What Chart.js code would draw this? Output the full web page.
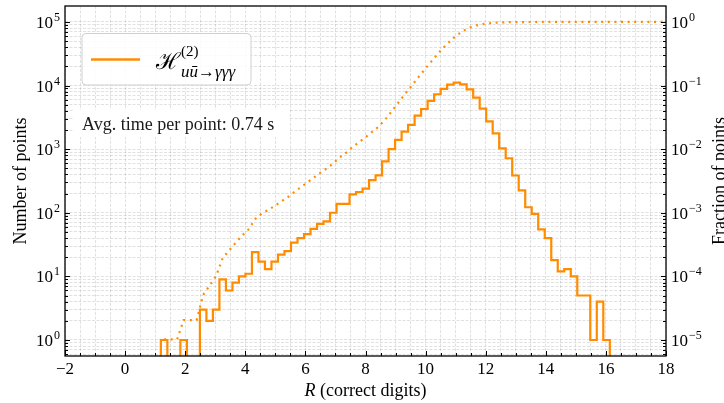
<!DOCTYPE html>
<html><head><meta charset="utf-8">
<script src="https://cdn.jsdelivr.net/npm/chart.js@4/dist/chart.umd.min.js"></script>
<style>html,body{margin:0;padding:0;background:#fff}#wrap{width:724px;height:403px;position:relative}</style>
</head><body><div id="wrap"><canvas id="c" width="724" height="403"></canvas></div>
<script>
// ---- data ----
const binLow = 1.19;          // left edge of first histogram bin (R)
const binHigh = 16.13;        // right edge of last histogram bin (R)
const counts = [1,0,0,1,0,0,3,2,3,9,6,8,10,11,24,17,13,17,22,25,34,40,46,56,67,73,100,138,138,195,212,240,325,388,643,1000,1395,1885,2400,3370,4280,5740,7300,8850,10350,11100,10460,8720,6440,4330,2740,1770,1030,720,385,225,122,96,55,40,18,12,13,10,5,5,1,4,1];
const cumFraction = [1.02e-5,1.02e-5,1.02e-5,2.05e-5,2.05e-5,2.05e-5,5.12e-5,7.16e-5,1.02e-4,1.94e-4,2.56e-4,3.38e-4,4.40e-4,5.52e-4,7.98e-4,9.72e-4,1.105e-3,1.279e-3,1.504e-3,1.760e-3,2.108e-3,2.517e-3,2.988e-3,3.561e-3,4.246e-3,4.993e-3,6.016e-3,7.428e-3,8.840e-3,1.0835e-2,1.3004e-2,1.5459e-2,1.8785e-2,2.2754e-2,2.9333e-2,3.9564e-2,5.3837e-2,7.3124e-2,9.768e-2,0.13216,0.17595,0.23467,0.30936,0.39991,0.50581,0.61937,0.72640,0.81561,0.88150,0.92581,0.95384,0.97195,0.98249,0.98985,0.99379,0.99609,0.99734,0.99832,0.99888,0.99929,0.99947,0.99960,0.99973,0.99983,0.99988,0.99993,0.99994,0.99998,1.0];
const cumTailX = 18;          // dotted curve continues flat to the right edge
const xTickValues = [-2,0,2,4,6,8,10,12,14,16,18];
const xTickLabels = ['\u22122','0','2','4','6','8','10','12','14','16','18'];
const yLeftExponents = ['0','1','2','3','4','5'];
const yRightExponents = ['\u22125','\u22124','\u22123','\u22122','\u22121','0'];
const seriesLabel = {main:'\u210B', sup:'(2)', sub:'u\u016B\u2192\u03B3\u03B3\u03B3'};
const noteText = 'Avg. time per point: 0.74 s';
const xTitle = {italic:'R', rest:' (correct digits)'};
const yLeftTitle = 'Number of points';
const yRightTitle = 'Fraction of points';
const totalScale = 1e5; // fraction axis = counts / 1e5

// ---- build line data ----
const nb = counts.length;
const bw = (binHigh - binLow) / nb;
const edges = counts.map((_, i) => binLow + i * bw).concat([binHigh]);
const FLOOR = 1e-3; // zero bins drawn below the visible log range
const stepPts = [{x: edges[0], y: FLOOR}];
counts.forEach((c, i) => {
  const v = c > 0 ? c : FLOOR;
  stepPts.push({x: edges[i], y: v}, {x: edges[i + 1], y: v});
});
stepPts.push({x: edges[nb], y: FLOOR});
const cumPts = cumFraction.map((f, i) => ({x: edges[i] + bw / 2, y: f}));
cumPts.push({x: cumTailX, y: cumFraction[cumFraction.length - 1]});

const ORANGE = '#ff8c00';
const SERIF = "'Liberation Serif','DejaVu Serif',serif";
const yMin = 0.56, yMax = 1.78e5;
const gridColor = 'rgba(0,0,0,0.15)';

function logTicks(min, max) {
  const t = [];
  for (let e = -8; e <= 8; e++) for (let k = 1; k <= 9; k++) {
    const v = k * Math.pow(10, e);
    if (v >= min * 0.999 && v <= max * 1.001) t.push({value: v});
  }
  return t;
}

const decor = {
  id: 'decor',
  afterDraw(chart) {
    const {ctx, chartArea: a, scales} = chart;
    const xs = scales.x, yl = scales.y, yr = scales.y2;
    ctx.save();
    // tick marks (inward)
    ctx.strokeStyle = '#000';
    ctx.lineWidth = 1;
    ctx.beginPath();
    for (let i = 0; i <= 40; i++) {
      const v = -2 + i * 0.5;
      const px = Math.round(xs.getPixelForValue(v)) + 0.5;
      const len = (i % 4 === 0) ? 5 : 3;
      ctx.moveTo(px, a.bottom); ctx.lineTo(px, a.bottom - len);
    }
    logTicks(yMin, yMax).forEach(t => {
      const py = Math.round(yl.getPixelForValue(t.value)) + 0.5;
      const major = Math.abs(Math.log10(t.value) - Math.round(Math.log10(t.value))) < 1e-9;
      const len = major ? 5 : 3;
      ctx.moveTo(a.left, py); ctx.lineTo(a.left + len, py);
      ctx.moveTo(a.right, py); ctx.lineTo(a.right - len, py);
    });
    ctx.stroke();
    // frame
    ctx.lineWidth = 1.3;
    ctx.strokeRect(a.left, a.top, a.right - a.left, a.bottom - a.top);

    ctx.fillStyle = '#000';
    // x tick labels
    ctx.font = '17px ' + SERIF;
    ctx.textAlign = 'center'; ctx.textBaseline = 'alphabetic';
    xTickValues.forEach((v, i) => {
      ctx.fillText(xTickLabels[i], xs.getPixelForValue(v), a.bottom + 18);
    });
    // y tick labels
    const drawPow = (x, y, exp, align) => {
      ctx.font = '17px ' + SERIF;
      const wb = ctx.measureText('10').width;
      ctx.font = '12px ' + SERIF;
      const we = ctx.measureText(exp).width;
      const x0 = align === 'right' ? x - wb - we - 1 : x;
      ctx.textAlign = 'left';
      ctx.font = '17px ' + SERIF;
      ctx.fillText('10', x0, y + 6);
      ctx.font = '12px ' + SERIF;
      ctx.fillText(exp, x0 + wb + 1, y - 1);
    };
    yLeftExponents.forEach(e => {
      drawPow(a.left - 5, yl.getPixelForValue(Math.pow(10, +e.replace('\u2212','-'))), e, 'right');
    });
    yRightExponents.forEach(e => {
      drawPow(a.right + 5, yr.getPixelForValue(Math.pow(10, +e.replace('\u2212','-'))), e, 'left');
    });
    // axis titles
    ctx.font = 'italic 18px ' + SERIF;
    const wR = ctx.measureText(xTitle.italic).width;
    ctx.font = '18px ' + SERIF;
    const wRest = ctx.measureText(xTitle.rest).width;
    const cx = (a.left + a.right) / 2, ty = a.bottom + 40;
    ctx.textAlign = 'left';
    ctx.font = 'italic 18px ' + SERIF;
    ctx.fillText(xTitle.italic, cx - (wR + wRest) / 2, ty);
    ctx.font = '18px ' + SERIF;
    ctx.fillText(xTitle.rest, cx - (wR + wRest) / 2 + wR, ty);

    const cy = (a.top + a.bottom) / 2;
    ctx.save();
    ctx.translate(26, cy); ctx.rotate(-Math.PI / 2);
    ctx.textAlign = 'center'; ctx.fillText(yLeftTitle, 0, 0);
    ctx.restore();
    ctx.save();
    ctx.translate(725, cy); ctx.rotate(-Math.PI / 2);
    ctx.textAlign = 'center'; ctx.fillText(yRightTitle, 0, 0);
    ctx.restore();

    // note box
    ctx.fillStyle = '#fff';
    ctx.fillRect(73, 110, 217, 27);
    ctx.fillStyle = '#1a1a1a';
    ctx.textAlign = 'left';
    ctx.font = '18px ' + SERIF;
    ctx.fillText(noteText, 82, 130);

    // legend
    const lx = 82, ly = 33.5, lw = 169, lh = 51.5, r = 4;
    ctx.beginPath();
    ctx.moveTo(lx + r, ly); ctx.lineTo(lx + lw - r, ly); ctx.quadraticCurveTo(lx + lw, ly, lx + lw, ly + r);
    ctx.lineTo(lx + lw, ly + lh - r); ctx.quadraticCurveTo(lx + lw, ly + lh, lx + lw - r, ly + lh);
    ctx.lineTo(lx + r, ly + lh); ctx.quadraticCurveTo(lx, ly + lh, lx, ly + lh - r);
    ctx.lineTo(lx, ly + r); ctx.quadraticCurveTo(lx, ly, lx + r, ly);
    ctx.closePath();
    ctx.fillStyle = 'rgba(255,255,255,0.85)'; ctx.fill();
    ctx.strokeStyle = '#d0d0d0'; ctx.lineWidth = 1; ctx.stroke();
    ctx.strokeStyle = ORANGE; ctx.lineWidth = 2.6;
    ctx.beginPath(); ctx.moveTo(91, 59.5); ctx.lineTo(140, 59.5); ctx.stroke();
    ctx.fillStyle = '#000';
    ctx.font = "23px 'DejaVu Serif',serif";
    ctx.fillText(seriesLabel.main, 156, 69);
    const hEnd = 156 + ctx.measureText(seriesLabel.main).width;
    const sx = Math.max(hEnd + 1, 180);
    ctx.font = '15px ' + SERIF;
    ctx.fillText(seriesLabel.sup, sx, 56);
    ctx.font = 'italic 17px ' + SERIF;
    ctx.fillText(seriesLabel.sub, sx, 77);
    ctx.restore();
  }
};

new Chart(document.getElementById('c'), {
  type: 'line',
  data: {
    datasets: [
      {data: stepPts, borderColor: ORANGE, borderWidth: 2.2, pointRadius: 0, tension: 0, yAxisID: 'y', fill: false, borderJoinStyle: 'miter'},
      {data: cumPts, borderColor: ORANGE, borderWidth: 2.2, borderDash: [2, 4.6], borderCapStyle: 'butt', pointRadius: 0, tension: 0, yAxisID: 'y2', fill: false}
    ]
  },
  options: {
    responsive: false, animation: false, devicePixelRatio: 1,
    layout: {padding: {left: 65, right: 58, top: 6, bottom: 47}},
    plugins: {legend: {display: false}, tooltip: {enabled: false}},
    scales: {
      x: {type: 'linear', min: -2, max: 18,
          afterBuildTicks: s => { const t = []; for (let i = 0; i <= 40; i++) t.push({value: -2 + i * 0.5}); s.ticks = t; },
          ticks: {display: false}, grid: {color: gridColor, lineWidth: 0.8, drawTicks: false},
          border: {display: false, dash: [3, 1.5]}},
      y: {type: 'logarithmic', position: 'left', min: yMin, max: yMax,
          afterBuildTicks: s => { s.ticks = logTicks(yMin, yMax); },
          ticks: {display: false}, grid: {color: gridColor, lineWidth: 0.8, drawTicks: false},
          border: {display: false, dash: [3, 1.5]}},
      y2: {type: 'logarithmic', position: 'right', min: yMin / totalScale, max: yMax / totalScale,
          ticks: {display: false}, grid: {display: false, drawTicks: false}, border: {display: false}}
    }
  },
  plugins: [decor]
});
</script></body></html>
